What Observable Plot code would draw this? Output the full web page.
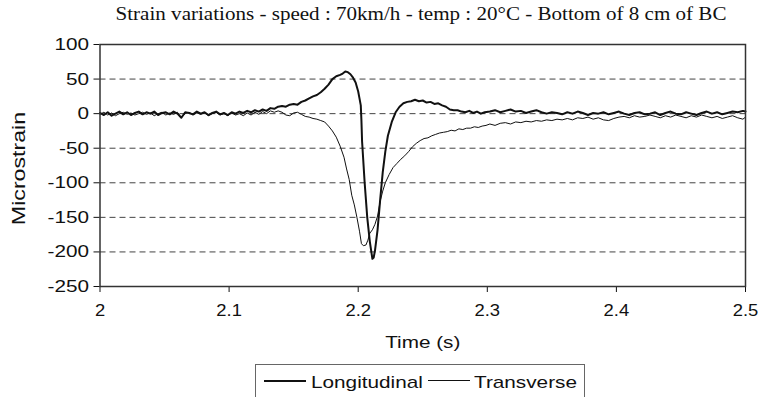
<!DOCTYPE html>
<html>
<head>
<meta charset="utf-8">
<script src="https://cdn.jsdelivr.net/npm/d3@7"></script>
<script src="https://cdn.jsdelivr.net/npm/@observablehq/plot@0.6"></script>
<style>
html, body { margin: 0; padding: 0; background: #fff; }
#wrap { position: relative; width: 758px; height: 397px; overflow: hidden; background: #fff; }
#chart { position: absolute; left: 0; top: 0; }
#title { position: absolute; left: 0; top: 2px; width: 842px; text-align: center;
  font-family: "Liberation Serif", "Times New Roman", serif; font-size: 18px; line-height: 24px; color: #111;
  transform: scaleX(1.17); transform-origin: 421px 50%; white-space: nowrap; }
#legend { position: absolute; left: 255px; top: 364px; width: 330px; height: 40px; border: 1px solid #666; box-sizing: border-box; }
.lg-line { position: absolute; background: #111; }
.lg-text { position: absolute; font-family: "Liberation Sans", Arial, sans-serif; font-size: 17px; line-height: 17px; color: #111;
  white-space: nowrap; transform: scaleX(1.22); transform-origin: 0 50%; }
</style>
</head>
<body>
<div id="wrap">
  <div id="chart"></div>
  <div id="title"></div>
  <div id="legend"></div>
</div>
<script>
// ---------- data ----------
const titleText = "Strain variations - speed : 70km/h - temp : 20°C - Bottom of 8 cm of BC";
const xLabel = "Time (s)";
const yLabel = "Microstrain";
const seriesNames = ["Longitudinal", "Transverse"];
const xTicks = [2, 2.1, 2.2, 2.3, 2.4, 2.5];
const yTicks = [100, 50, 0, -50, -100, -150, -200, -250];
const gridValues = [50, 0, -50, -100, -150, -200];

const longT = [2.000,2.003,2.006,2.009,2.012,2.015,2.018,2.021,2.024,2.027,2.030,2.033,2.036,2.039,2.042,2.045,2.048,2.051,2.054,2.057,2.060,2.063,2.066,2.069,2.072,2.075,2.078,2.081,2.084,2.087,2.090,2.093,2.096,2.099,2.102,2.105,2.108,2.111,2.114,2.117,2.120,2.123,2.126,2.129,2.132,2.135,
  2.138,2.141,2.144,2.147,2.150,2.153,2.156,2.159,2.162,2.165,2.168,2.171,2.174,2.177,2.180,2.183,2.186,2.188,2.190,2.192,2.194,2.196,2.198,2.200,2.201,2.202,2.2025,2.203,2.205,2.207,2.209,2.211,2.212,2.213,2.215,2.217,2.219,2.221,2.223,2.226,2.229,2.232,2.235,2.238,2.241,2.244,2.247,2.250,2.253,2.256,2.259,2.262,2.265,2.268,2.271,2.274,2.277,2.280,2.283,2.286,2.289,2.292,2.295,2.298,
  2.302,2.306,2.310,2.314,2.318,2.322,2.326,2.330,2.334,2.338,2.342,2.346,2.350,2.354,2.358,2.362,2.366,2.370,2.374,2.378,2.382,2.386,2.390,2.394,2.398,2.402,2.406,2.410,2.414,2.418,2.422,2.426,2.430,2.434,2.438,2.442,2.446,2.450,2.454,2.458,2.462,2.466,2.470,2.474,2.478,2.482,2.486,2.490,2.494,2.498,2.500];
const longV = [1,-2,2,-3,0,3,-1,2,-2,1,3,-1,2,0,3,-2,1,2,-1,3,0,-6,2,1,-1,3,0,2,-2,1,3,-1,1,-2,2,0,3,1,4,2,5,3,6,4,8,7,
  10,11,10,13,14,13,17,19,22,25,27,31,36,42,50,54,56,58,61,60,57,52,45,32,22,12,-10,-40,-100,-150,-185,-210,-208,-198,-168,-125,-85,-55,-32,-12,2,10,15,17,18,20,18,19,16,17,14,15,12,10,6,5,5,3,2,4,1,3,0,2,
  3,5,2,4,6,3,4,1,3,5,2,0,2,1,-1,2,0,3,1,-2,1,0,2,-1,1,3,0,-2,1,2,-1,0,2,-2,1,3,0,-1,2,0,-2,1,3,0,2,-1,1,3,2,4,3];

const transT = [2.000,2.003,2.006,2.009,2.012,2.015,2.018,2.021,2.024,2.027,2.030,2.033,2.036,2.039,2.042,2.045,2.048,2.051,2.054,2.057,2.060,2.063,2.066,2.069,2.072,2.075,2.078,2.081,2.084,2.087,2.090,2.093,2.096,2.099,2.102,2.105,2.108,2.111,2.114,2.117,2.120,2.123,2.126,2.129,2.132,2.135,2.138,2.141,2.144,2.147,2.150,2.153,2.156,2.159,2.162,2.165,2.168,2.171,2.174,
  2.177,2.180,2.183,2.186,2.189,2.191,2.193,2.195,2.197,2.199,2.201,2.2025,2.204,2.206,2.2075,2.209,2.211,2.213,2.215,2.217,2.219,2.221,2.224,2.227,2.230,2.233,2.236,2.239,2.242,2.245,2.248,2.251,2.254,2.257,2.260,2.263,2.266,2.269,2.272,2.275,2.278,2.281,2.284,2.287,2.290,2.293,2.296,2.299,
  2.302,2.306,2.310,2.314,2.318,2.322,2.326,2.330,2.334,2.338,2.342,2.346,2.350,2.354,2.358,2.362,2.366,2.370,2.374,2.378,2.382,2.386,2.390,2.394,2.398,2.402,2.406,2.410,2.414,2.418,2.422,2.426,2.430,2.434,2.438,2.442,2.446,2.450,2.454,2.458,2.462,2.466,2.470,2.474,2.478,2.482,2.486,2.490,2.494,2.498,2.500];
const transV = [-1,2,-2,1,-3,0,2,-1,1,-2,0,2,-1,1,-3,0,2,-2,1,-1,2,-6,0,2,-2,1,-1,1,-3,0,2,-2,0,-3,1,-2,0,-3,1,-2,2,-1,3,0,4,2,4,2,-2,-3,1,2,-1,-4,-5,-7,-8,-10,-12,
  -18,-25,-34,-47,-63,-80,-95,-118,-132,-150,-170,-188,-191,-190,-183,-173,-168,-160,-148,-127,-112,-100,-88,-78,-72,-66,-61,-55,-48,-43,-39,-36,-35,-32,-30,-28,-27,-26,-24,-25,-22,-23,-21,-21,-19,-20,-18,-17,
  -15,-17,-14,-13,-15,-12,-13,-11,-12,-10,-11,-9,-10,-8,-9,-7,-9,-6,-7,-5,-8,-6,-9,-10,-7,-5,-4,-6,-3,-5,-4,-2,-4,-6,-3,-5,-2,-4,-6,-3,-5,-2,-4,-6,-4,-7,-5,-3,-6,-8,-5];

// ---------- build ----------
const longData = longT.map((t, i) => ({t, v: longV[i]}));
const transData = transT.map((t, i) => ({t, v: transV[i]}));

const chart = Plot.plot({
  width: 758,
  height: 397,
  marginLeft: 99.5,
  marginRight: 13,
  marginTop: 44,
  marginBottom: 111,
  style: {fontFamily: "'Liberation Sans', Arial, sans-serif", fontSize: "17px", background: "#fff", color: "#111"},
  x: {domain: [2, 2.5], ticks: xTicks, tickFormat: d => String(d), tickSize: 6, tickPadding: 12, label: null},
  y: {domain: [-250, 100], ticks: yTicks, tickFormat: d => String(d), tickSize: 6, tickPadding: 5, label: null},
  marks: [
    Plot.ruleY(gridValues, {stroke: "#444", strokeWidth: 1, strokeDasharray: "6,4"}),
    Plot.line(transData, {x: "t", y: "v", stroke: "#111", strokeWidth: 1}),
    Plot.line(longData, {x: "t", y: "v", stroke: "#111", strokeWidth: 2}),
    Plot.frame({stroke: "#333", strokeWidth: 1.5}),
    Plot.text([xLabel], {frameAnchor: "bottom", textAnchor: "middle", lineAnchor: "middle", dy: 56, fontSize: 17, fill: "#111"}),
    Plot.text([yLabel], {frameAnchor: "left", textAnchor: "middle", lineAnchor: "middle", rotate: -90, dx: -81, dy: 3, fontSize: 19, fill: "#111"})
  ]
});
document.getElementById("chart").appendChild(chart);

// widen glyphs along their baseline, like the original's wide sans font
const xTickTexts = new Set(chart.querySelectorAll('g[aria-label="x-axis tick label"] text'));
chart.querySelectorAll("text").forEach(el => {
  let s = 1.22;
  if (xTickTexts.has(el)) { s = 1.15; el.setAttribute("font-size", "16"); el.style.fontSize = "16px"; }
  const x = parseFloat(el.getAttribute("x")) || 0;
  const tr = el.getAttribute("transform") || "";
  el.setAttribute("transform", `${tr} translate(${x},0) scale(${s},1) translate(${-x},0)`);
});

document.getElementById("title").textContent = titleText;

const legend = document.getElementById("legend");
const items = [
  {name: seriesNames[0], lineLeft: 8, textLeft: 55, thick: 2},
  {name: seriesNames[1], lineLeft: 172, textLeft: 218, thick: 1}
];
items.forEach(it => {
  const ln = document.createElement("div");
  ln.className = "lg-line";
  ln.style.left = it.lineLeft + "px";
  ln.style.width = "42px";
  ln.style.top = (15 - it.thick / 2 + 0.5) + "px";
  ln.style.height = it.thick + "px";
  legend.appendChild(ln);
  const tx = document.createElement("div");
  tx.className = "lg-text";
  tx.style.left = it.textLeft + "px";
  tx.style.top = "9px";
  tx.textContent = it.name;
  legend.appendChild(tx);
});
</script>
</body>
</html>
